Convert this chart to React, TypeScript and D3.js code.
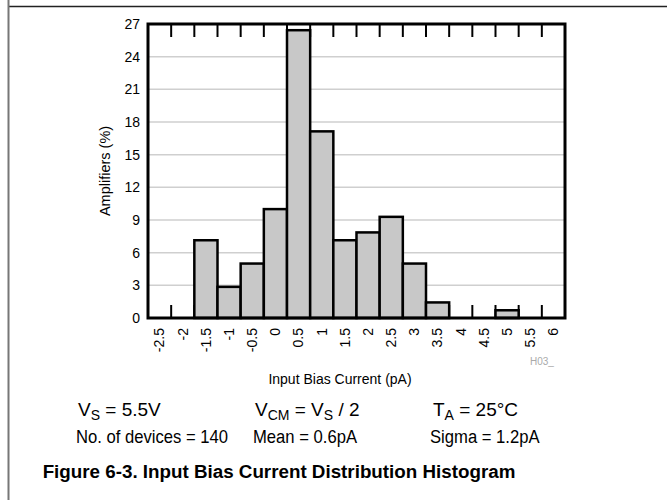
import React from 'react';
import { scaleBand, scaleLinear } from 'd3';

// histogram bins (pA) and share of amplifiers (%)
const bins = ['-2.5', '-2', '-1.5', '-1', '-0.5', '0', '0.5', '1', '1.5', '2', '2.5', '3', '3.5', '4', '4.5', '5', '5.5', '6'];
const percent = [0, 0, 7.14, 2.86, 5, 10, 26.43, 17.14, 7.14, 7.86, 9.29, 5, 1.43, 0, 0, 0.71, 0, 0];
const yTicks = [0, 3, 6, 9, 12, 15, 18, 21, 24, 27];

const W = 667;
const H = 500;
const left = 148;
const right = 565;
const top = 24;
const bottom = 318;
const font = "'Liberation Sans', Arial, Helvetica, sans-serif";

// narrow-looking text: the original uses a condensed face
const Cond = ({ x, y, sx = 0.9, children }: { x: number; y: number; sx?: number; children: React.ReactNode }) => (
  <text transform={`translate(${x},${y}) scale(${sx},1)`}>{children}</text>
);

function App() {
  const x = scaleBand<string>().domain(bins).range([left, right]).padding(0);
  const y = scaleLinear().domain([0, 27]).range([bottom, top]);
  const bw = x.bandwidth();

  return (
    <svg width={W} height={H} style={{ position: 'absolute', left: 0, top: 0, background: '#fff' }} fontFamily={font}>
      {/* page frame */}
      <line x1={8} x2={W} y1={6.5} y2={6.5} stroke="#222" strokeWidth={1.5} />
      <line x1={8.5} x2={8.5} y1={0} y2={H} stroke="#777" strokeWidth={2} />

      {/* grid */}
      {yTicks.slice(1, -1).map((t) => (
        <line key={t} x1={left} x2={right} y1={y(t)} y2={y(t)} stroke="#cfcfcf" strokeWidth={1.5} />
      ))}

      {/* tick marks at bin edges */}
      {bins.slice(1).map((b) => (
        <g key={b}>
          <line x1={x(b)} x2={x(b)} y1={top} y2={top + 13} stroke="#000" strokeWidth={2} />
          <line x1={x(b)} x2={x(b)} y1={bottom} y2={bottom - 13} stroke="#000" strokeWidth={2} />
        </g>
      ))}

      {/* bars */}
      {bins.map((b, i) =>
        percent[i] > 0 ? (
          <rect key={b} x={x(b)} y={y(percent[i])} width={bw} height={bottom - y(percent[i])}
            fill="#c8c8c8" stroke="#000" strokeWidth={2.5} />
        ) : null
      )}

      {/* plot border */}
      <rect x={left} y={top} width={right - left} height={bottom - top} fill="none" stroke="#000" strokeWidth={3} />

      {/* y tick labels */}
      {yTicks.map((t) => (
        <text key={t} x={left - 8} y={y(t)} dy="0.36em" textAnchor="end" fontSize={14} fill="#000">{t}</text>
      ))}
      <text transform={`translate(105,${(top + bottom) / 2}) rotate(-90)`} textAnchor="middle" dy="0.35em" fontSize={14.5}>
        Amplifiers (%)
      </text>

      {/* x tick labels */}
      {bins.map((b) => (
        <text key={b} transform={`translate(${x(b)! + bw / 2},${bottom + 10}) rotate(-90)`} textAnchor="end" dy="0.35em" fontSize={14}>
          {b}
        </text>
      ))}
      <text x={340} y={384} textAnchor="middle" fontSize={14}>Input Bias Current (pA)</text>
      <text x={530} y={365} fontSize={10} fill="#aaa">H03_</text>

      {/* conditions */}
      <g fontSize={19}>
        <Cond x={78} y={416} sx={1}>V<tspan dy={4} fontSize={14}>S</tspan><tspan dy={-4}> = 5.5V</tspan></Cond>
        <Cond x={255} y={416} sx={1}>V<tspan dy={4} fontSize={14}>CM</tspan><tspan dy={-4}> = V</tspan><tspan dy={4} fontSize={14}>S</tspan><tspan dy={-4}> / 2</tspan></Cond>
        <Cond x={433} y={416} sx={1}>T<tspan dy={4} fontSize={14}>A</tspan><tspan dy={-4}> = 25°C</tspan></Cond>
      </g>
      <g fontSize={18.5}>
        <Cond x={76} y={443}>No. of devices = 140</Cond>
        <Cond x={253} y={443}>Mean = 0.6pA</Cond>
        <Cond x={430} y={443}>Sigma = 1.2pA</Cond>
      </g>
      <text x={279} y={478} textAnchor="middle" fontSize={18.8} fontWeight="bold">
        Figure 6-3. Input Bias Current Distribution Histogram
      </text>
    </svg>
  );
}

export default App;
